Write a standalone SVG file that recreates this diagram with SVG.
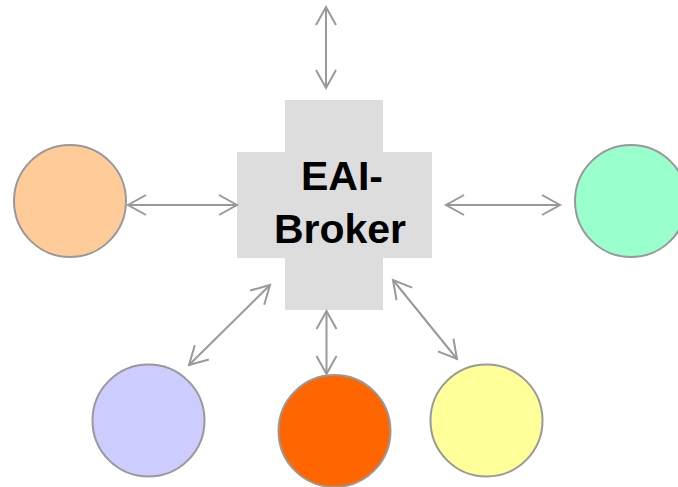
<svg xmlns="http://www.w3.org/2000/svg" width="678" height="487" viewBox="0 0 678 487">
  <style>
    .node { stroke: #999999; stroke-width: 2; }
    .link { stroke: #999999; stroke-width: 2; fill: none; marker-start: url(#arr); marker-end: url(#arr); }
    .label { font-family: "Liberation Sans", Arial, sans-serif; font-weight: bold; font-size: 41px; fill: #000000; text-anchor: middle; }
  </style>
  <defs>
    <marker id="arr" markerUnits="userSpaceOnUse" markerWidth="24" markerHeight="24" refX="20" refY="12" orient="auto-start-reverse" viewBox="0 0 24 24">
      <path d="M2,2 L20,12 L2,22" fill="none" stroke="#999999" stroke-width="2"/>
    </marker>
  </defs>
  <rect width="678" height="487" fill="#ffffff"/>

  <g id="broker">
    <path d="M285,100 H383 V152 H432 V258 H383 V310 H285 V258 H237 V152 H285 Z" fill="#dddddd"/>
    <text class="label" x="342" y="190">EAI-</text>
    <text class="label" x="340" y="243">Broker</text>
  </g>

  <g id="node-orange"><circle class="node" cx="70" cy="201" r="56" fill="#ffcc99"/></g>
  <g id="node-green"><circle class="node" cx="631" cy="201" r="56" fill="#99ffcc"/></g>
  <g id="node-purple"><circle class="node" cx="148.5" cy="420.5" r="56" fill="#ccccff"/></g>
  <g id="node-red"><circle class="node" cx="334.5" cy="431" r="56" fill="#ff6600"/></g>
  <g id="node-yellow"><circle class="node" cx="486.5" cy="420.5" r="56" fill="#ffff99"/></g>

  <g id="connectors">
    <line class="link" x1="326" y1="7" x2="326" y2="88"/>
    <line class="link" x1="128" y1="205" x2="237" y2="205"/>
    <line class="link" x1="446" y1="205" x2="560" y2="205"/>
    <line class="link" x1="326.5" y1="311" x2="326.5" y2="374"/>
    <line class="link" x1="270" y1="285" x2="189" y2="365"/>
    <line class="link" x1="393" y1="280" x2="457" y2="359"/>
  </g>
</svg>
